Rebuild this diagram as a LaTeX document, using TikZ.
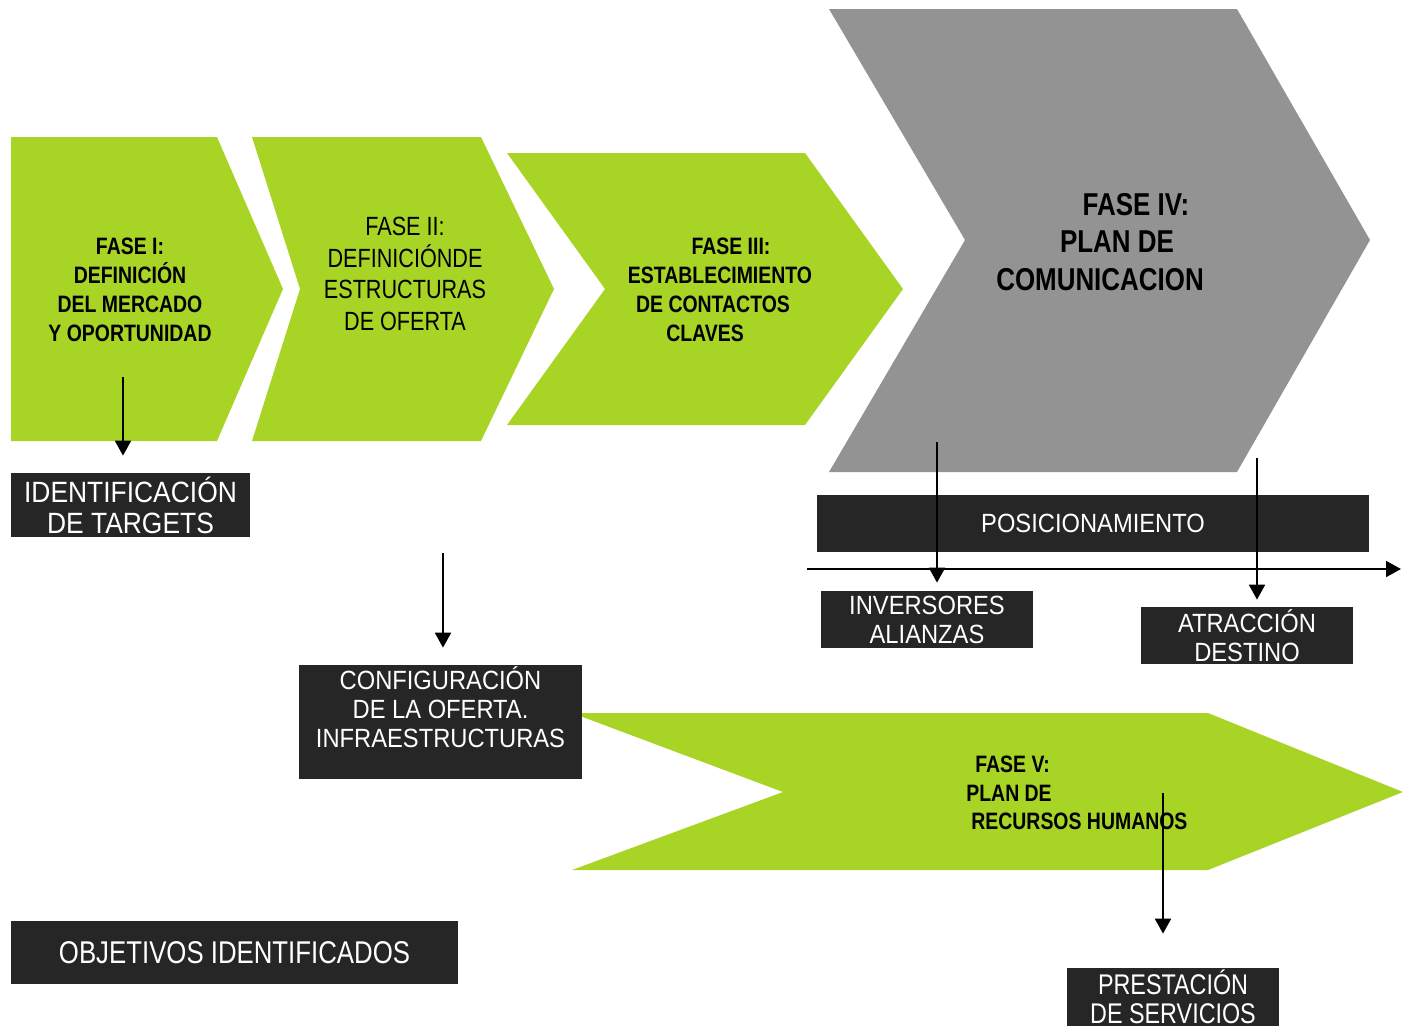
\documentclass[tikz,border=0pt]{standalone}
\usepackage{fontspec}
\setmainfont{Liberation Sans}
\newfontfamily\narrowfont[FakeStretch=0.82]{Liberation Sans}
\newfontfamily\boxfont[FakeStretch=0.9]{Liberation Sans}
\usetikzlibrary{arrows.meta}
\definecolor{phasegreen}{RGB}{168,212,38}
\definecolor{phasegray}{RGB}{147,147,147}
\definecolor{boxdark}{RGB}{38,38,38}
\begin{document}
\begin{tikzpicture}[x=0.02cm, y=-0.02cm,
  phasetext/.style={font=\narrowfont\bfseries\fontsize{13.5}{16.4}\selectfont, align=center, inner sep=0},
  darkbox/.style={fill=boxdark, text=white, font=\boxfont\fontsize{15}{16.5}\selectfont, align=center, inner sep=0},
  arr/.style={-{Triangle[width=9pt,length=8.5pt]}, line width=1.3pt}]
  \useasboundingbox (0,0) rectangle (1403,1031);
  % phases
  \fill[phasegreen] (11,137) -- (217,137) -- (283,289) -- (217,441) -- (11,441) -- cycle;
  \fill[phasegreen] (252,137) -- (481,137) -- (554,289) -- (481,441) -- (252,441) -- (300,289) -- cycle;
  \fill[phasegreen] (507,153) -- (805,153) -- (903,289) -- (805,425) -- (507,425) -- (605,289) -- cycle;
  \fill[phasegray] (829,9) -- (1237,9) -- (1370,240) -- (1237,472) -- (829,472) -- (965,240) -- cycle;
  \fill[phasegreen] (572,713) -- (1208,713) -- (1403,792) -- (1208,870) -- (572,870) -- (783,792) -- cycle;
  \node[phasetext] (fase1) at (130,290) {FASE I:\\ DEFINICIÓN\\ DEL MERCADO\\ Y OPORTUNIDAD};
  \node[phasetext, font=\narrowfont\fontsize{15}{18.1}\selectfont] (fase2) at (405,274)
    {FASE II:\\ DEFINICIÓNDE\\ ESTRUCTURAS\\ DE OFERTA};
  \node[phasetext] (fase3) at (720,290)
    {\hspace*{0.44cm}FASE III:\\ ESTABLECIMIENTO\\ DE CONTACTOS\hspace*{0.28cm}\mbox{}\\ CLAVES\hspace*{0.6cm}\mbox{}};
  \node[phasetext, font=\narrowfont\bfseries\fontsize{18}{21.5}\selectfont] (fase4) at (1100,242)
    {\hspace*{1.44cm}FASE IV:\\ \hspace*{0.68cm}PLAN DE\\ COMUNICACION};
  \node[phasetext, align=left, anchor=west] (fase5) at (966,793)
    {\hspace*{0.18cm}FASE V:\\ PLAN DE\\ \hspace*{0.1cm}RECURSOS HUMANOS};
  % results
  \node[darkbox, minimum width=4.78cm, minimum height=1.28cm, font=\boxfont\fontsize{16.7}{17.6}\selectfont]
    (targets) at (130.5,505) {IDENTIFICACIÓN\\ DE TARGETS};
  \node[darkbox, minimum width=5.66cm, minimum height=2.28cm]
    (oferta) at (440.5,722) {CONFIGURACIÓN\\ DE LA OFERTA.\\ INFRAESTRUCTURAS\\ \mbox{}};
  \node[darkbox, minimum width=11.04cm, minimum height=1.14cm] (posic) at (1093,523.5) {POSICIONAMIENTO};
  \node[darkbox, minimum width=4.24cm, minimum height=1.14cm] (inversores) at (927,619.5) {INVERSORES\\ ALIANZAS};
  \node[darkbox, minimum width=4.24cm, minimum height=1.14cm] (atraccion) at (1247,635.5) {ATRACCIÓN\\ DESTINO};
  \node[darkbox, minimum width=8.94cm, minimum height=1.26cm, font=\narrowfont\fontsize{17.9}{18}\selectfont]
    (objetivos) at (234.5,952.5) {OBJETIVOS IDENTIFICADOS};
  \node[darkbox, minimum width=4.24cm, minimum height=1.16cm, font=\narrowfont\fontsize{16.2}{16.5}\selectfont]
    (prestacion) at (1173,997) {PRESTACIÓN\\ DE SERVICIOS};
  % arrows
  \coordinate (s1) at (123,377);
  \coordinate (s2) at (443,553);
  \coordinate (s3) at (937,442);
  \coordinate (s4) at (1257,458);
  \coordinate (s5) at (1163,793);
  \coordinate (ax1) at (807,569);
  \coordinate (ax2) at (1401,569);
  \draw[arr, shorten >=0.34cm] (s1) -- (s1 |- targets.north);
  \draw[arr, shorten >=0.34cm] (s2) -- (s2 |- oferta.north);
  \draw[arr] (ax1) -- (ax2);
  \draw[arr, shorten >=0.16cm] (s3) -- (s3 |- inversores.north);
  \draw[arr, shorten >=0.14cm] (s4) -- (s4 |- atraccion.north);
  \draw[arr, shorten >=0.68cm] (s5) -- (s5 |- prestacion.north);
\end{tikzpicture}
\end{document}
